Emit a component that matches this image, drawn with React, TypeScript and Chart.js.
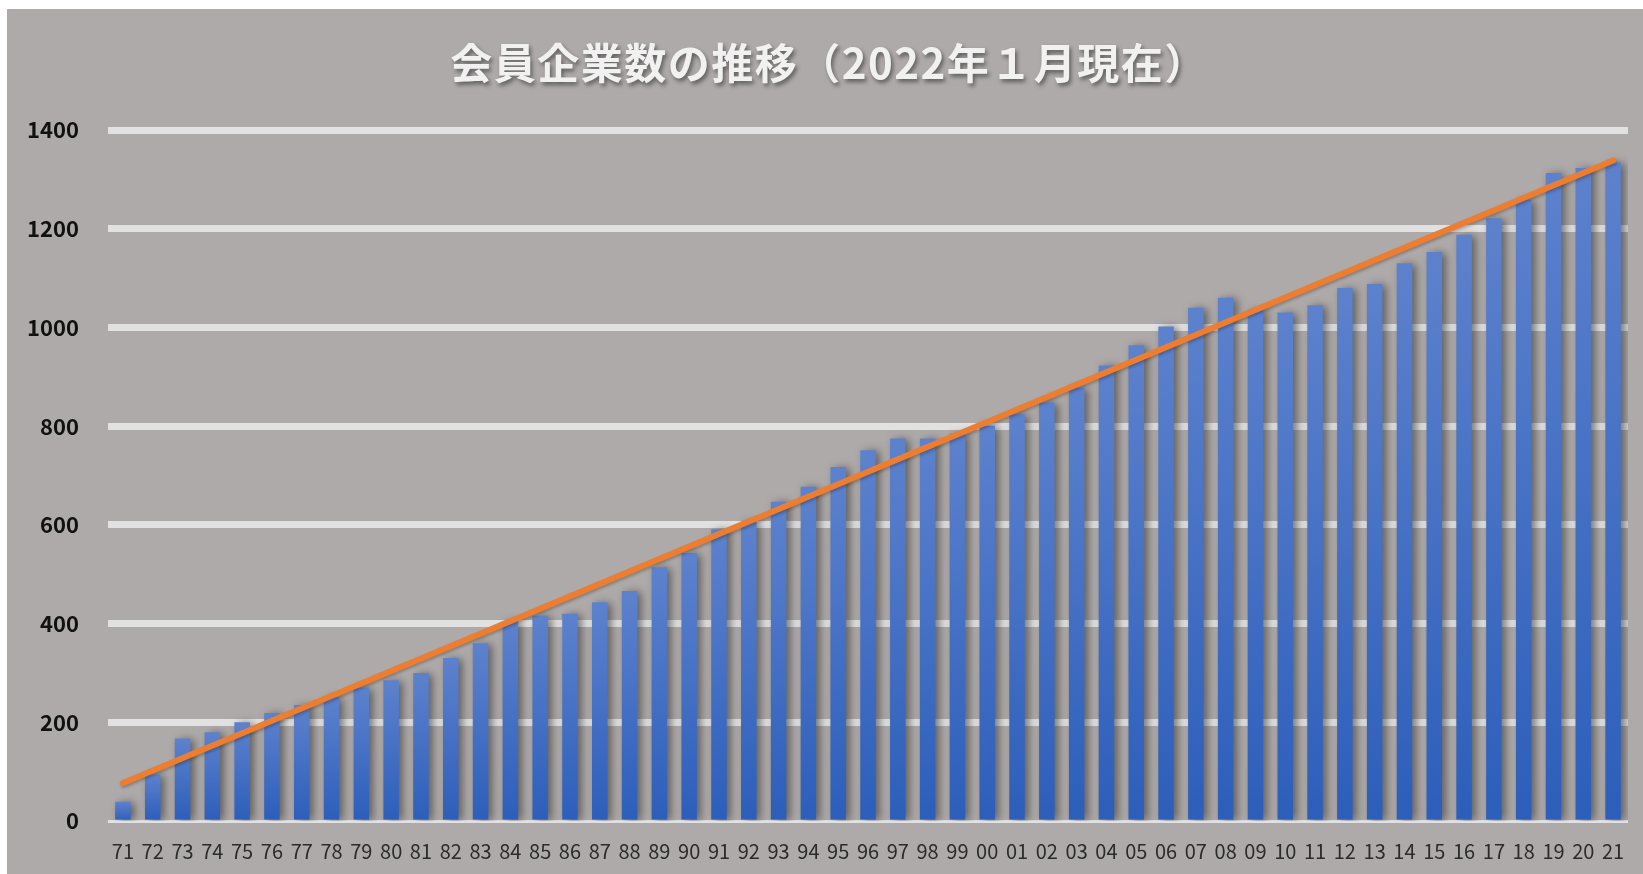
import React, { useEffect, useRef } from 'react';
import { Chart, registerables } from 'chart.js';

Chart.register(...registerables);

const TITLE = '会員企業数の推移（2022年１月現在）';

const years = [
  '71', '72', '73', '74', '75', '76', '77', '78', '79', '80',
  '81', '82', '83', '84', '85', '86', '87', '88', '89', '90',
  '91', '92', '93', '94', '95', '96', '97', '98', '99', '00',
  '01', '02', '03', '04', '05', '06', '07', '08', '09', '10',
  '11', '12', '13', '14', '15', '16', '17', '18', '19', '20', '21',
];

const members = [
  39, 94, 167, 180, 200, 219, 235, 250, 270, 285,
  300, 330, 360, 405, 416, 420, 443, 466, 514, 543,
  591, 607, 647, 677, 717, 751, 775, 775, 785, 801,
  824, 848, 878, 923, 964, 1002, 1040, 1060, 1036, 1030,
  1045, 1080, 1088, 1130, 1153, 1188, 1221, 1258, 1313, 1323, 1334,
];

// linear trendline end points
const trendStart = 77;
const trendEnd = 1338;

const yTicks = [0, 200, 400, 600, 800, 1000, 1200, 1400];

const FONT = '"Noto Sans CJK JP", "Noto Sans", sans-serif';
const BAR_TOP = '#5d82cd';
const BAR_BOTTOM = '#2c5eba';

const shadowPlugin = {
  id: 'markShadow',
  beforeDatasetDraw(chart: any, args: any) {
    const ctx = chart.ctx;
    ctx.save();
    if (args.meta.type === 'bar') {
      ctx.shadowColor = 'rgba(45,45,45,0.6)';
      ctx.shadowBlur = 9;
      ctx.shadowOffsetX = 4;
      ctx.shadowOffsetY = 1;
    } else {
      ctx.shadowColor = 'rgba(0,0,0,0.25)';
      ctx.shadowBlur = 3;
      ctx.shadowOffsetX = 1;
      ctx.shadowOffsetY = 2;
    }
  },
  afterDatasetDraw(chart: any) {
    chart.ctx.restore();
  },
};

const titlePlugin = {
  id: 'shadowTitle',
  afterDraw(chart: any) {
    const ctx = chart.ctx;
    ctx.save();
    ctx.font = `bold 42px ${FONT}`;
    try {
      (ctx as any).letterSpacing = '1.5px';
    } catch (e) {}
    ctx.fillStyle = '#f1f1f1';
    ctx.textAlign = 'center';
    ctx.textBaseline = 'middle';
    ctx.shadowColor = 'rgba(0,0,0,0.45)';
    ctx.shadowBlur = 4;
    ctx.shadowOffsetX = 2;
    ctx.shadowOffsetY = 3;
    ctx.fillText(TITLE, chart.width / 2 + 4, 54);
    ctx.restore();
  },
};

export default function App() {
  const ref = useRef<HTMLCanvasElement>(null);

  useEffect(() => {
    if (!ref.current) return;
    const trendData = years.map((_, i) =>
      i === 0 ? trendStart : i === years.length - 1 ? trendEnd : null
    );
    const chart = new Chart(ref.current, {
      type: 'bar',
      data: {
        labels: years,
        datasets: [
          {
            type: 'line',
            label: '線形（会員企業数）',
            data: trendData as any,
            borderColor: '#ed7d31',
            borderWidth: 6,
            borderCapStyle: 'round',
            pointRadius: 0,
            spanGaps: true,
            tension: 0,
            order: 0,
          } as any,
          {
            type: 'bar',
            label: '会員企業数',
            data: members,
            barPercentage: 0.52,
            categoryPercentage: 1,
            order: 1,
            backgroundColor: (c: any) => {
              const chart = c.chart;
              const y = chart.scales && chart.scales.y;
              if (!y || c.type !== 'data' || !chart.chartArea) return BAR_BOTTOM;
              const v = c.parsed ? c.parsed.y : c.raw;
              const top = y.getPixelForValue(v);
              const bottom = y.getPixelForValue(0);
              if (!isFinite(top) || !isFinite(bottom) || top === bottom) return BAR_BOTTOM;
              const g = chart.ctx.createLinearGradient(0, top, 0, bottom);
              g.addColorStop(0, BAR_TOP);
              g.addColorStop(1, BAR_BOTTOM);
              return g;
            },
          } as any,
        ],
      },
      options: {
        responsive: false,
        animation: false,
        layout: { padding: { top: 121, right: 15, left: 0, bottom: 0 } },
        plugins: {
          legend: { display: false },
          tooltip: { enabled: false },
          title: { display: false },
        },
        scales: {
          x: {
            grid: { display: false },
            border: { display: false },
            ticks: {
              color: '#2b2b2b',
              font: { family: FONT, size: 20 },
              padding: 10,
              maxRotation: 0,
              autoSkip: false,
            },
            afterFit(s: any) {
              s.height = 53;
            },
          },
          y: {
            min: 0,
            max: 1400,
            afterBuildTicks(s: any) {
              s.ticks = yTicks.map((v) => ({ value: v }));
            },
            ticks: {
              color: '#111111',
              padding: 29,
              font: { family: FONT, size: 22, weight: 'bold' },
              callback: (v: any) => String(v),
            },
            grid: {
              color: '#e1e1e1',
              lineWidth: (c: any) => (c.tick && c.tick.value === 0 ? 3 : 7),
              drawTicks: false,
            },
            border: { display: false },
            afterFit(s: any) {
              s.width = 101;
            },
          },
        },
      } as any,
      plugins: [shadowPlugin, titlePlugin],
    });
    return () => chart.destroy();
  }, []);

  return (
    <div
      style={{
        position: 'fixed',
        left: 7,
        top: 9,
        width: 1636,
        height: 865,
        background: '#aeaaa9',
      }}
    >
      <canvas ref={ref} width={1636} height={865} style={{ display: 'block' }} />
    </div>
  );
}
